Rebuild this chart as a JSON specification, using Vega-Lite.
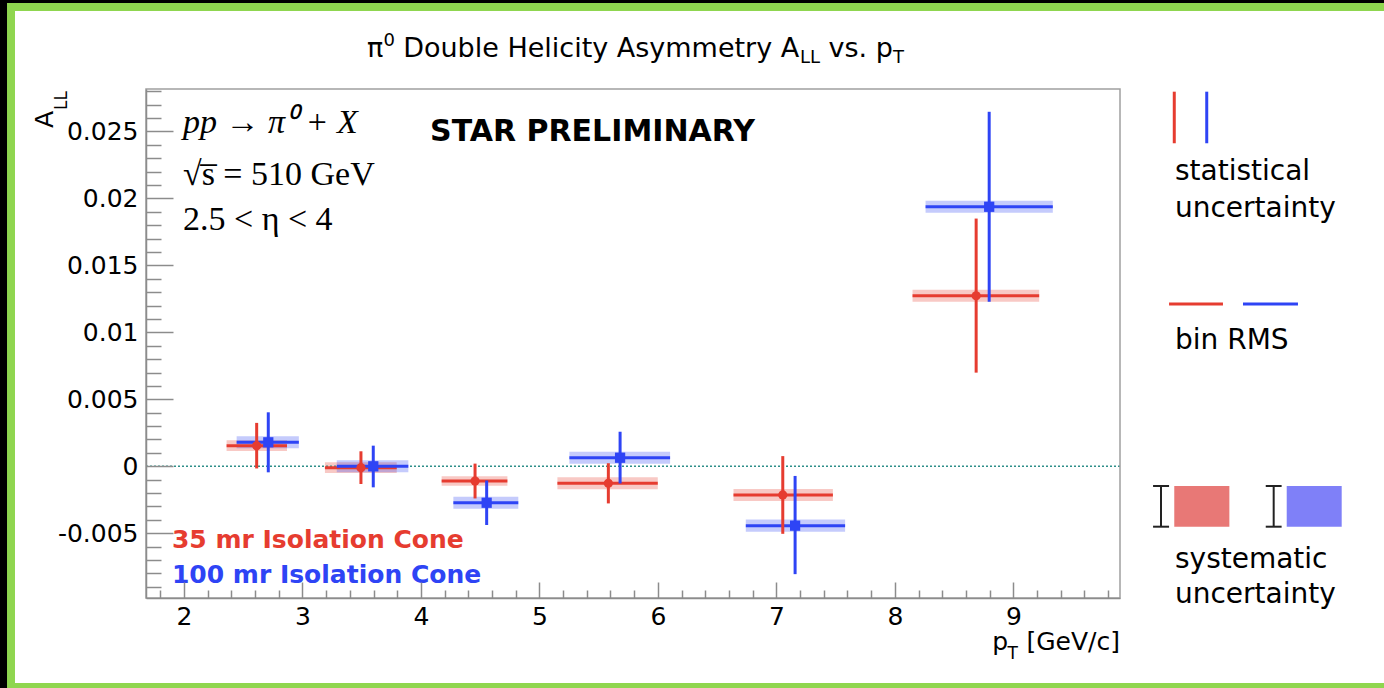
{
  "$schema": "https://vega.github.io/schema/vega-lite/v6.json",
  "width": 974,
  "height": 509,
  "autosize": {"type": "none"},
  "padding": {"left": 146, "top": 89, "right": 264, "bottom": 90},
  "background": "#000000",
  "config": {"view": {"stroke": null}, "font": "DejaVu Sans"},
  "datasets": {
    "pts": [
      {"series": "35 mr", "pt": 2.614, "A": 0.00154, "statLo": -0.00016, "statHi": 0.00324, "ptLo": 2.36, "ptHi": 2.87, "sysLo": 0.00114, "sysHi": 0.00194},
      {"series": "35 mr", "pt": 3.494, "A": -0.0001, "statLo": -0.00132, "statHi": 0.00112, "ptLo": 3.19, "ptHi": 3.796, "sysLo": -0.0005, "sysHi": 0.0003},
      {"series": "35 mr", "pt": 4.457, "A": -0.0011, "statLo": -0.0024, "statHi": 0.0002, "ptLo": 4.175, "ptHi": 4.73, "sysLo": -0.00145, "sysHi": -0.00075},
      {"series": "35 mr", "pt": 5.582, "A": -0.00127, "statLo": -0.00277, "statHi": 0.00023, "ptLo": 5.152, "ptHi": 5.999, "sysLo": -0.00172, "sysHi": -0.00082},
      {"series": "35 mr", "pt": 7.054, "A": -0.00214, "statLo": -0.00504, "statHi": 0.00076, "ptLo": 6.638, "ptHi": 7.477, "sysLo": -0.00259, "sysHi": -0.00169},
      {"series": "35 mr", "pt": 8.686, "A": 0.01273, "statLo": 0.00699, "statHi": 0.01849, "ptLo": 8.149, "ptHi": 9.218, "sysLo": 0.01228, "sysHi": 0.01318},
      {"series": "100 mr", "pt": 2.712, "A": 0.00179, "statLo": -0.00045, "statHi": 0.00403, "ptLo": 2.445, "ptHi": 2.97, "sysLo": 0.00134, "sysHi": 0.00224},
      {"series": "100 mr", "pt": 3.598, "A": 0.0, "statLo": -0.00157, "statHi": 0.00154, "ptLo": 3.29, "ptHi": 3.894, "sysLo": -0.00045, "sysHi": 0.00045},
      {"series": "100 mr", "pt": 4.555, "A": -0.00272, "statLo": -0.00438, "statHi": -0.00106, "ptLo": 4.274, "ptHi": 4.822, "sysLo": -0.00317, "sysHi": -0.00227},
      {"series": "100 mr", "pt": 5.681, "A": 0.00064, "statLo": -0.00128, "statHi": 0.00258, "ptLo": 5.253, "ptHi": 6.103, "sysLo": 0.00019, "sysHi": 0.00109},
      {"series": "100 mr", "pt": 7.158, "A": -0.00443, "statLo": -0.00805, "statHi": -0.00072, "ptLo": 6.742, "ptHi": 7.58, "sysLo": -0.00488, "sysHi": -0.00398},
      {"series": "100 mr", "pt": 8.796, "A": 0.01937, "statLo": 0.01228, "statHi": 0.02646, "ptLo": 8.259, "ptHi": 9.333, "sysLo": 0.01892, "sysHi": 0.01982}
    ]
  },
  "resolve": {"axis": {"x": "independent", "y": "independent"}},
  "layer": [
    {"data": {"values": [{}]}, "mark": {"type": "rect", "fill": "#8fd64f"},
     "encoding": {"x": {"datum": 0.507, "type": "quantitative", "axis": null}, "x2": {"datum": 12.4},
                  "y": {"datum": -0.0175, "type": "quantitative", "axis": null}, "y2": {"datum": 0.034579}}},
    {"data": {"values": [{}]}, "mark": {"type": "rect", "fill": "#ffffff"},
     "encoding": {"x": {"datum": 0.5744, "type": "quantitative", "axis": null}, "x2": {"datum": 12.4},
                  "y": {"datum": -0.016174, "type": "quantitative", "axis": null}, "y2": {"datum": 0.033982}}},
    {"data": {"name": "pts"}, "mark": {"type": "rect", "opacity": 0.28},
     "encoding": {
       "x": {"field": "ptLo", "type": "quantitative", "scale": {"domain": [1.68, 9.9], "nice": false, "zero": false},
             "axis": {"values": [2, 3, 4, 5, 6, 7, 8, 9], "title": null, "grid": false, "orient": "bottom", "tickSize": -16, "tickColor": "#8c8c8c", "tickWidth": 1.5, "domainColor": "#8c8c8c", "domainWidth": 1.5, "labelFont": "DejaVu Sans", "labelFontSize": 25, "labelColor": "#000000", "labelPadding": 22, "labelFlush": false, "labelOverlap": false, "zindex": 1}},
       "x2": {"field": "ptHi"},
       "y": {"field": "sysLo", "type": "quantitative", "scale": {"domain": [-0.00983, 0.02816], "nice": false, "zero": false},
             "axis": {"values": [-0.005, 0, 0.005, 0.01, 0.015, 0.02, 0.025], "title": null, "grid": false, "orient": "left", "tickSize": -27, "tickColor": "#8c8c8c", "tickWidth": 1.5, "domainColor": "#8c8c8c", "domainWidth": 1.5, "labelFont": "DejaVu Sans", "labelFontSize": 25, "labelColor": "#000000", "labelPadding": 35, "labelOverlap": false, "labelFlush": false, "zindex": 1,
                      "labelExpr": "datum.value < 0 ? '-' + format(-datum.value, '.3~f') : format(datum.value, '.3~f')"}},
       "y2": {"field": "sysHi"},
       "color": {"field": "series", "type": "nominal", "scale": {"domain": ["35 mr", "100 mr"], "range": ["#e63c30", "#2e44f5"]}, "legend": null}
     }},
    {"data": {"name": "pts"}, "mark": {"type": "point", "opacity": 0},
     "encoding": {
       "x": {"field": "pt", "type": "quantitative",
             "axis": {"values": [1.8, 2.2, 2.4, 2.6, 2.8, 3.2, 3.4, 3.6, 3.8, 4.2, 4.4, 4.6, 4.8, 5.2, 5.4, 5.6, 5.8, 6.2, 6.4, 6.6, 6.8, 7.2, 7.4, 7.6, 7.8, 8.2, 8.4, 8.6, 8.8, 9.2, 9.4, 9.6, 9.8],
                      "orient": "bottom", "title": null, "grid": false, "labels": false, "domain": false, "tickSize": -8, "tickColor": "#8c8c8c", "tickWidth": 1.5, "zindex": 1}},
       "y": {"field": "A", "type": "quantitative",
             "axis": {"values": [-0.009, -0.008, -0.007, -0.006, -0.004, -0.003, -0.002, -0.001, 0.001, 0.002, 0.003, 0.004, 0.006, 0.007, 0.008, 0.009, 0.011, 0.012, 0.013, 0.014, 0.016, 0.017, 0.018, 0.019, 0.021, 0.022, 0.023, 0.024, 0.026, 0.027, 0.028],
                      "orient": "left", "title": null, "grid": false, "labels": false, "domain": false, "tickSize": -15, "tickColor": "#8c8c8c", "tickWidth": 1.5, "zindex": 1}}
     }},
    {"data": {"values": [{}]}, "mark": {"type": "rule", "color": "#2f8f8a", "strokeWidth": 1.5, "strokeDash": [2, 2]},
     "encoding": {"y": {"datum": 0, "type": "quantitative", "axis": null}}},
    {"data": {"name": "pts"}, "mark": {"type": "rule", "strokeWidth": 3},
     "encoding": {
       "x": {"field": "ptLo", "type": "quantitative", "axis": null}, "x2": {"field": "ptHi"},
       "y": {"field": "A", "type": "quantitative", "axis": null},
       "color": {"field": "series", "type": "nominal", "scale": {"domain": ["35 mr", "100 mr"], "range": ["#e63c30", "#2e44f5"]}, "legend": null}
     }},
    {"data": {"name": "pts"}, "mark": {"type": "rule", "strokeWidth": 3},
     "encoding": {
       "x": {"field": "pt", "type": "quantitative", "axis": null},
       "y": {"field": "statLo", "type": "quantitative", "axis": null}, "y2": {"field": "statHi"},
       "color": {"field": "series", "type": "nominal", "scale": {"domain": ["35 mr", "100 mr"], "range": ["#e63c30", "#2e44f5"]}, "legend": null}
     }},
    {"data": {"name": "pts"}, "mark": {"type": "point", "filled": true, "opacity": 1, "strokeWidth": 0},
     "encoding": {
       "x": {"field": "pt", "type": "quantitative", "axis": null},
       "y": {"field": "A", "type": "quantitative", "axis": null},
       "color": {"field": "series", "type": "nominal", "scale": {"domain": ["35 mr", "100 mr"], "range": ["#e63c30", "#2e44f5"]}, "legend": null},
       "shape": {"field": "series", "type": "nominal", "scale": {"domain": ["35 mr", "100 mr"], "range": ["circle", "square"]}, "legend": null},
       "size": {"field": "series", "type": "nominal", "scale": {"domain": ["35 mr", "100 mr"], "range": [85, 105]}, "legend": null}
     }},
    {"data": {"values": [{}]}, "mark": {"type": "rect", "filled": false, "stroke": "#a0a0a0", "strokeWidth": 1.5},
     "encoding": {"x": {"datum": 1.68, "type": "quantitative", "axis": null}, "x2": {"datum": 9.9},
                  "y": {"datum": -0.00983, "type": "quantitative", "axis": null}, "y2": {"datum": 0.02816}}},

    {"data": {"values": [{}]}, "mark": {"type": "text", "text": "π", "fontSize": 27, "align": "left", "baseline": "alphabetic", "color": "#000000"},
     "encoding": {"x": {"datum": 3.545, "type": "quantitative", "axis": null}, "y": {"datum": 0.030549, "type": "quantitative", "axis": null}}},
    {"data": {"values": [{}]}, "mark": {"type": "text", "text": "0", "fontSize": 18, "align": "left", "baseline": "alphabetic", "color": "#000000"},
     "encoding": {"x": {"datum": 3.685, "type": "quantitative", "axis": null}, "y": {"datum": 0.03137, "type": "quantitative", "axis": null}}},
    {"data": {"values": [{}]}, "mark": {"type": "text", "text": "Double Helicity Asymmetry A", "fontSize": 27, "align": "left", "baseline": "alphabetic", "color": "#000000"},
     "encoding": {"x": {"datum": 3.85, "type": "quantitative", "axis": null}, "y": {"datum": 0.030549, "type": "quantitative", "axis": null}}},
    {"data": {"values": [{}]}, "mark": {"type": "text", "text": "LL", "fontSize": 18, "align": "left", "baseline": "alphabetic", "color": "#000000"},
     "encoding": {"x": {"datum": 7.2, "type": "quantitative", "axis": null}, "y": {"datum": 0.030101, "type": "quantitative", "axis": null}}},
    {"data": {"values": [{}]}, "mark": {"type": "text", "text": "vs. p", "fontSize": 27, "align": "left", "baseline": "alphabetic", "color": "#000000"},
     "encoding": {"x": {"datum": 7.44, "type": "quantitative", "axis": null}, "y": {"datum": 0.030549, "type": "quantitative", "axis": null}}},
    {"data": {"values": [{}]}, "mark": {"type": "text", "text": "T", "fontSize": 18, "align": "left", "baseline": "alphabetic", "color": "#000000"},
     "encoding": {"x": {"datum": 7.985, "type": "quantitative", "axis": null}, "y": {"datum": 0.030101, "type": "quantitative", "axis": null}}},

    {"data": {"values": [{}]}, "mark": {"type": "text", "text": "A", "fontSize": 25, "angle": 270, "align": "left", "baseline": "alphabetic", "color": "#000000"},
     "encoding": {"x": {"datum": 0.895, "type": "quantitative", "axis": null}, "y": {"datum": 0.025249, "type": "quantitative", "axis": null}}},
    {"data": {"values": [{}]}, "mark": {"type": "text", "text": "LL", "fontSize": 17, "angle": 270, "align": "left", "baseline": "alphabetic", "color": "#000000"},
     "encoding": {"x": {"datum": 1.013, "type": "quantitative", "axis": null}, "y": {"datum": 0.026593, "type": "quantitative", "axis": null}}},

    {"data": {"values": [{}]}, "mark": {"type": "text", "text": "p", "fontSize": 25, "align": "right", "baseline": "alphabetic", "color": "#000000"},
     "encoding": {"x": {"datum": 8.955, "type": "quantitative", "axis": null}, "y": {"datum": -0.013711, "type": "quantitative", "axis": null}}},
    {"data": {"values": [{}]}, "mark": {"type": "text", "text": "T", "fontSize": 17, "align": "right", "baseline": "alphabetic", "color": "#000000"},
     "encoding": {"x": {"datum": 9.039, "type": "quantitative", "axis": null}, "y": {"datum": -0.014383, "type": "quantitative", "axis": null}}},
    {"data": {"values": [{}]}, "mark": {"type": "text", "text": "[GeV/c]", "fontSize": 25, "align": "right", "baseline": "alphabetic", "color": "#000000"},
     "encoding": {"x": {"datum": 9.9, "type": "quantitative", "axis": null}, "y": {"datum": -0.013711, "type": "quantitative", "axis": null}}},

    {"data": {"values": [{}]}, "mark": {"type": "text", "text": "pp → π⁰ + X", "font": "Liberation Serif", "fontStyle": "italic", "fontSize": 34, "align": "left", "baseline": "alphabetic", "color": "#000000"},
     "encoding": {"x": {"datum": 1.992, "type": "quantitative", "axis": null}, "y": {"datum": 0.024877, "type": "quantitative", "axis": null}}},
    {"data": {"values": [{}]}, "mark": {"type": "text", "text": "√s̅ = 510 GeV", "font": "Liberation Serif", "fontSize": 34, "align": "left", "baseline": "alphabetic", "color": "#000000"},
     "encoding": {"x": {"datum": 1.992, "type": "quantitative", "axis": null}, "y": {"datum": 0.020995, "type": "quantitative", "axis": null}}},
    {"data": {"values": [{}]}, "mark": {"type": "text", "text": "2.5 < η < 4", "font": "Liberation Serif", "fontSize": 34, "align": "left", "baseline": "alphabetic", "color": "#000000"},
     "encoding": {"x": {"datum": 1.992, "type": "quantitative", "axis": null}, "y": {"datum": 0.017637, "type": "quantitative", "axis": null}}},

    {"data": {"values": [{}]}, "mark": {"type": "text", "text": "STAR PRELIMINARY", "fontSize": 30, "fontWeight": "bold", "align": "left", "baseline": "alphabetic", "color": "#000000"},
     "encoding": {"x": {"datum": 4.077, "type": "quantitative", "axis": null}, "y": {"datum": 0.024279, "type": "quantitative", "axis": null}}},
    {"data": {"values": [{}]}, "mark": {"type": "text", "text": "35 mr Isolation Cone", "fontSize": 25, "fontWeight": "bold", "align": "left", "baseline": "alphabetic", "color": "#e63c30"},
     "encoding": {"x": {"datum": 1.899, "type": "quantitative", "axis": null}, "y": {"datum": -0.00612, "type": "quantitative", "axis": null}}},
    {"data": {"values": [{}]}, "mark": {"type": "text", "text": "100 mr Isolation Cone", "fontSize": 25, "fontWeight": "bold", "align": "left", "baseline": "alphabetic", "color": "#2e44f5"},
     "encoding": {"x": {"datum": 1.899, "type": "quantitative", "axis": null}, "y": {"datum": -0.008688, "type": "quantitative", "axis": null}}},

    {"data": {"values": [{}]}, "mark": {"type": "rule", "color": "#e63c30", "strokeWidth": 3},
     "encoding": {"x": {"datum": 10.358, "type": "quantitative", "axis": null}, "y": {"datum": 0.02796, "type": "quantitative", "axis": null}, "y2": {"datum": 0.02411}}},
    {"data": {"values": [{}]}, "mark": {"type": "rule", "color": "#2e44f5", "strokeWidth": 3},
     "encoding": {"x": {"datum": 10.632, "type": "quantitative", "axis": null}, "y": {"datum": 0.02796, "type": "quantitative", "axis": null}, "y2": {"datum": 0.02411}}},
    {"data": {"values": [{}]}, "mark": {"type": "text", "text": "statistical", "fontSize": 28, "align": "left", "baseline": "alphabetic", "color": "#000000"},
     "encoding": {"x": {"datum": 10.364, "type": "quantitative", "axis": null}, "y": {"datum": 0.021369, "type": "quantitative", "axis": null}}},
    {"data": {"values": [{}]}, "mark": {"type": "text", "text": "uncertainty", "fontSize": 28, "align": "left", "baseline": "alphabetic", "color": "#000000"},
     "encoding": {"x": {"datum": 10.364, "type": "quantitative", "axis": null}, "y": {"datum": 0.018584, "type": "quantitative", "axis": null}}},
    {"data": {"values": [{}]}, "mark": {"type": "rule", "color": "#e63c30", "strokeWidth": 3},
     "encoding": {"x": {"datum": 10.314, "type": "quantitative", "axis": null}, "x2": {"datum": 10.769}, "y": {"datum": 0.012113, "type": "quantitative", "axis": null}}},
    {"data": {"values": [{}]}, "mark": {"type": "rule", "color": "#2e44f5", "strokeWidth": 3},
     "encoding": {"x": {"datum": 10.938, "type": "quantitative", "axis": null}, "x2": {"datum": 11.402}, "y": {"datum": 0.012113, "type": "quantitative", "axis": null}}},
    {"data": {"values": [{}]}, "mark": {"type": "text", "text": "bin RMS", "fontSize": 28, "align": "left", "baseline": "alphabetic", "color": "#000000"},
     "encoding": {"x": {"datum": 10.364, "type": "quantitative", "axis": null}, "y": {"datum": 0.008732, "type": "quantitative", "axis": null}}},

    {"data": {"values": [{}]}, "mark": {"type": "rect", "fill": "#e87876"},
     "encoding": {"x": {"datum": 10.358, "type": "quantitative", "axis": null}, "x2": {"datum": 10.823}, "y": {"datum": -0.00147, "type": "quantitative", "axis": null}, "y2": {"datum": -0.004508}}},
    {"data": {"values": [{}]}, "mark": {"type": "rect", "fill": "#7f80f8"},
     "encoding": {"x": {"datum": 11.307, "type": "quantitative", "axis": null}, "x2": {"datum": 11.771}, "y": {"datum": -0.00147, "type": "quantitative", "axis": null}, "y2": {"datum": -0.004508}}},
    {"data": {"values": [{}]}, "mark": {"type": "rule", "color": "#222222", "strokeWidth": 2},
     "encoding": {"x": {"datum": 10.246, "type": "quantitative", "axis": null}, "y": {"datum": -0.00147, "type": "quantitative", "axis": null}, "y2": {"datum": -0.004508}}},
    {"data": {"values": [{}]}, "mark": {"type": "rule", "color": "#222222", "strokeWidth": 2},
     "encoding": {"x": {"datum": 10.179, "type": "quantitative", "axis": null}, "x2": {"datum": 10.314}, "y": {"datum": -0.00147, "type": "quantitative", "axis": null}}},
    {"data": {"values": [{}]}, "mark": {"type": "rule", "color": "#222222", "strokeWidth": 2},
     "encoding": {"x": {"datum": 10.179, "type": "quantitative", "axis": null}, "x2": {"datum": 10.314}, "y": {"datum": -0.004508, "type": "quantitative", "axis": null}}},
    {"data": {"values": [{}]}, "mark": {"type": "rule", "color": "#222222", "strokeWidth": 2},
     "encoding": {"x": {"datum": 11.197, "type": "quantitative", "axis": null}, "y": {"datum": -0.00147, "type": "quantitative", "axis": null}, "y2": {"datum": -0.004508}}},
    {"data": {"values": [{}]}, "mark": {"type": "rule", "color": "#222222", "strokeWidth": 2},
     "encoding": {"x": {"datum": 11.13, "type": "quantitative", "axis": null}, "x2": {"datum": 11.264}, "y": {"datum": -0.00147, "type": "quantitative", "axis": null}}},
    {"data": {"values": [{}]}, "mark": {"type": "rule", "color": "#222222", "strokeWidth": 2},
     "encoding": {"x": {"datum": 11.13, "type": "quantitative", "axis": null}, "x2": {"datum": 11.264}, "y": {"datum": -0.004508, "type": "quantitative", "axis": null}}},
    {"data": {"values": [{}]}, "mark": {"type": "text", "text": "systematic", "fontSize": 28, "align": "left", "baseline": "alphabetic", "color": "#000000"},
     "encoding": {"x": {"datum": 10.364, "type": "quantitative", "axis": null}, "y": {"datum": -0.007613, "type": "quantitative", "axis": null}}},
    {"data": {"values": [{}]}, "mark": {"type": "text", "text": "uncertainty", "fontSize": 28, "align": "left", "baseline": "alphabetic", "color": "#000000"},
     "encoding": {"x": {"datum": 10.364, "type": "quantitative", "axis": null}, "y": {"datum": -0.01018, "type": "quantitative", "axis": null}}}
  ]
}
